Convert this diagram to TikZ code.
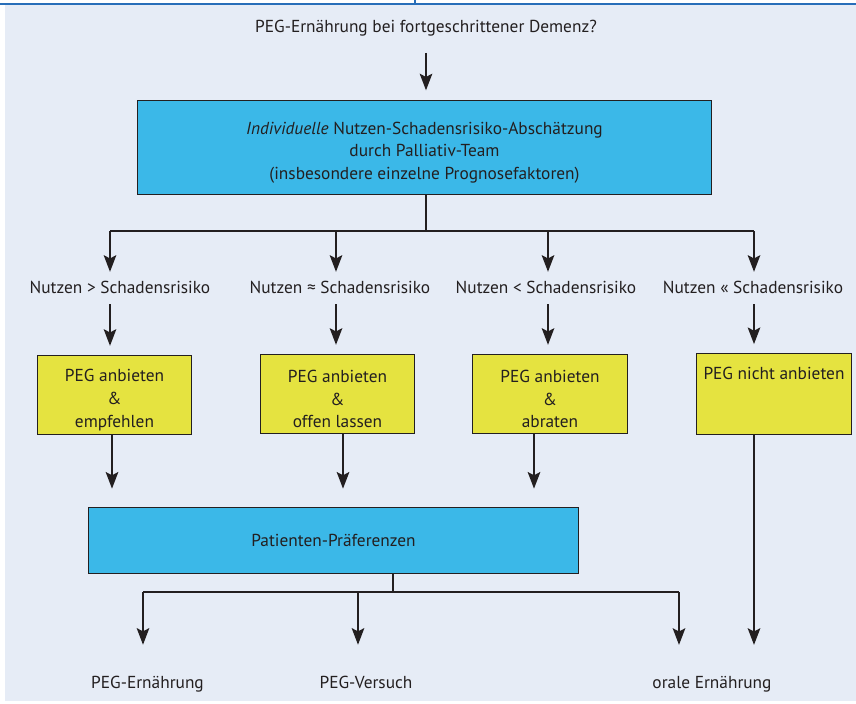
\documentclass[tikz,border=0pt]{standalone}
\usepackage{fontspec}
\setmainfont{PT Sans}
\usetikzlibrary{arrows.meta}

\definecolor{bgblue}{RGB}{230,236,246}
\definecolor{boxblue}{RGB}{59,184,232}
\definecolor{boxyellow}{RGB}{229,227,64}
\definecolor{rulecol}{RGB}{40,110,185}
\definecolor{linecol}{RGB}{35,31,32}

% extra room above the first line of a box
\newcommand{\topgap}{\rule{0pt}{17pt}}

\tikzset{
  txt/.style={inner sep=2pt, font=\fontsize{13}{17}\selectfont, text=linecol},
  outlbl/.style={txt, anchor=base},
  bluebox/.style={txt, draw=linecol, fill=boxblue, line width=0.8pt, align=center},
  yellowbox/.style={txt, draw=linecol, fill=boxyellow, line width=0.8pt, align=center,
    minimum width=116pt, minimum height=59pt},
  conn/.style={draw=linecol, line width=1pt},
  arr/.style={conn, -{Stealth[length=12.5pt, width=9.5pt, inset=2.5pt]}},
}

\begin{document}
\begin{tikzpicture}[x=0.75pt,y=0.75pt,yscale=-1,xscale=1]
\useasboundingbox (0,0) rectangle (856,703);

% background panel
\fill[bgblue] (5,5) rectangle (856,701);
\draw[rulecol, line width=1.2pt] (0,4) -- (856,4);
\draw[rulecol, line width=1pt] (415,0) -- (415,4);

% Text Node
\node[txt] (title) at (426,28) {PEG-Ernährung bei fortgeschrittener Demenz?};
% Blue boxes
\node[bluebox, minimum width=431pt, minimum height=70pt] (assess) at (424.5,147.5)
  {\topgap\textit{Individuelle} Nutzen-Schadensrisiko-Abschätzung\\durch Palliativ-Team\\(insbesondere einzelne Prognosefaktoren)};
\node[bluebox, minimum width=368pt, minimum height=49pt] (pref) at (333.5,540.5) {Patienten-Präferenzen};

% Text Node
\node[txt] (gt) at (120,287) {Nutzen > Schadensrisiko};
\node[txt] (approx) at (340,287) {Nutzen ≈ Schadensrisiko};
\node[txt] (lt) at (546,287) {Nutzen < Schadensrisiko};
\node[txt] (ll) at (753,287) {Nutzen « Schadensrisiko};

% Yellow boxes
\node[yellowbox] (offer) at (114.5,395) {\topgap PEG anbieten\\\&\\empfehlen};
\node[yellowbox] (open) at (337.5,394) {\topgap PEG anbieten\\\&\\offen lassen};
\node[yellowbox] (advise) at (550,394) {\topgap PEG anbieten\\\&\\abraten};
\node[yellowbox] (nooffer) at (774,394) {\topgap PEG nicht anbieten\\\strut\\\strut};

% Text Node
\node[outlbl] (peg) at (147.5,688) {PEG-Ernährung};
\node[outlbl] (trial) at (366,688) {PEG-Versuch};
\node[outlbl] (oral) at (712,688) {orale Ernährung};

% branch points
\coordinate (b1) at (110,231);
\coordinate (b2) at (336,231);
\coordinate (b3) at (548,231);
\coordinate (b4) at (754,231);
\coordinate (c1) at (112,470);
\coordinate (c2) at (343,470);
\coordinate (c3) at (534,470);
\coordinate (fork) at (393,592);
\coordinate (o1) at (143,592);
\coordinate (o2) at (358,592);
\coordinate (o3) at (679,592);

%Straight Lines
\draw[arr, shorten <=10.5pt, shorten >=7.5pt] (title.south) -- (title.south |- assess.north);
\draw[conn] (426,0 |- assess.south) -- (426,0 |- b1);
\draw[conn] (b1) -- (b4);
\foreach \b/\n/\m in {b1/gt/offer, b2/approx/open, b3/lt/advise, b4/ll/nooffer}{
  \draw[arr, shorten >=4.5pt] (\b) -- (\b |- \n.north);
  \draw[arr, shorten <=6pt, shorten >=7pt] (\b |- \n.south) -- (\b |- \m.north);
}
\foreach \c/\m in {c1/offer, c2/open, c3/advise}
  \draw[arr, shorten >=14pt] (\c |- \m.south) -- (\c |- pref.north);
\draw[conn] (fork |- pref.south) -- (fork);
\draw[conn] (o1) -- (o3);
\foreach \o/\n in {o1/peg, o2/trial, o3/oral}
  \draw[arr, shorten >=21pt] (\o) -- (\o |- \n.north);
\draw[arr, shorten >=21pt] (b4 |- nooffer.south) -- (b4 |- oral.north);

\end{tikzpicture}
\end{document}
